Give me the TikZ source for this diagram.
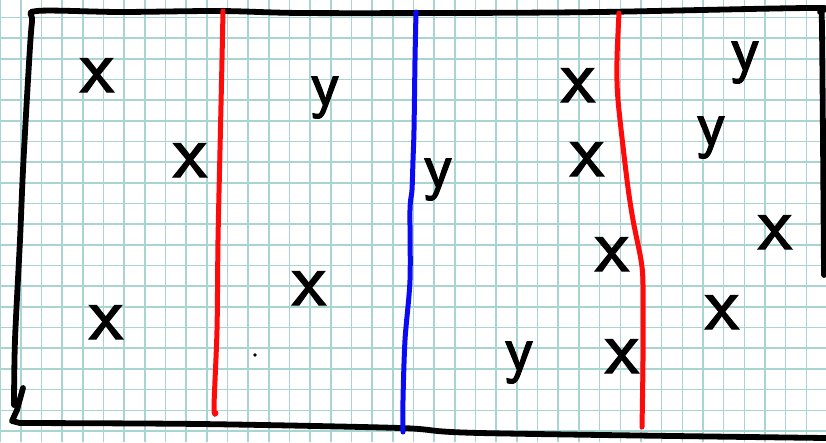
\documentclass[tikz,border=0pt]{standalone}
\usepackage{fontspec}
\newfontfamily\penfont[FakeBold=1.6]{Latin Modern Sans}
\definecolor{gridteal}{HTML}{A8D4D2}
\definecolor{penred}{HTML}{FF0A0A}
\definecolor{penblue}{HTML}{0A0AF5}

\begin{document}
\begin{tikzpicture}[x=1pt,y=-1pt,
    gridline/.style={draw=gridteal,line width=1.6pt},
    penline/.style={line width=5pt,line cap=round,line join=round},
    frameline/.style={penline,black,line width=5.8pt},
    letx/.style={anchor=base,inner sep=0pt,font=\fontsize{78}{80}\selectfont\penfont},
    lety/.style={anchor=base,inner sep=0pt,font=\fontsize{66}{68}\selectfont\penfont}
]
\useasboundingbox (0,0) rectangle (826,442);
\fill[white] (0,0) rectangle (826,442);
\foreach \i in {0,...,40}
    \draw[gridline] ({0.2+20.67*\i},0) -- ({0.2+20.67*\i},442);
\foreach \j in {1,...,22}
    \draw[gridline] (0,{-3.1+20.67*\j}) -- (826,{-3.1+20.67*\j});
\draw[frameline] plot[smooth] coordinates {(14,405) (15,340) (20,240) (23,170)
    (28,80) (32,22) (37,11) (120,12) (220,11) (300,13) (450,13) (600,12)
    (812,8) (820,12) (822,30) (824,275)};
\draw[frameline] (23,388) -- (17,410) -- (12,421) -- (20,423);
\draw[frameline] plot[smooth] coordinates {(20,423) (200,424) (400,428)
    (480,433) (826,438)};
\draw[penline,penred] plot[smooth] coordinates {(223,11) (222,60) (220,150)
    (218,240) (217,330) (214,407) (216,413)};
\draw[penline,penred] plot[smooth] coordinates {(619,13) (617,60) (618,100)
    (627,180) (633,220) (641,260) (643,285) (643,360) (642,427)};
\draw[penline,penblue] plot[smooth] coordinates {(416,12) (415,60) (414,130)
    (413,160) (412,190) (410,210) (410,280) (405,340) (403,400) (403,432)};
\node[letx] (x1) at (97,92) {x};
\node[letx] (x2) at (190,177) {x};
\node[letx] (x3) at (106,339) {x};
\node[letx] (x4) at (309,305) {x};
\node[letx] (x5) at (578,102) {x};
\node[letx] (x6) at (587,176) {x};
\node[letx] (x7) at (612,271) {x};
\node[letx] (x8) at (622,373) {x};
\node[letx] (x9) at (775,249) {x};
\node[letx] (x10) at (722,329) {x};
\node[lety] (y1) at (325,105) {y};
\node[lety] (y2) at (438,187) {y};
\node[lety] (y3) at (519,370) {y};
\node[lety] (y4) at (745,70) {y};
\node[lety] (y5) at (711,145) {y};
\fill[black] (255,355) circle (1.8);
\end{tikzpicture}
\end{document}
